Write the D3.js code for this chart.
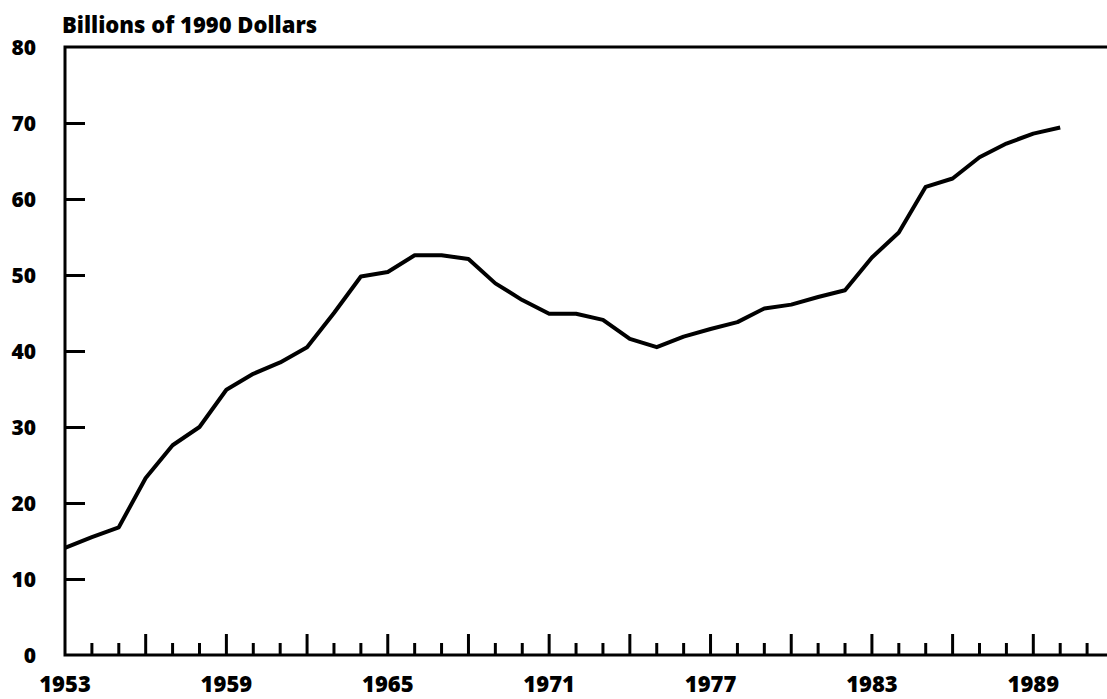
<!DOCTYPE html>
<html>
<head>
<meta charset="utf-8">
<script src="https://cdn.jsdelivr.net/npm/d3@7"></script>
<style>
  body { margin: 0; background: #fff; }
  text { font-family: "Open Sans", sans-serif; font-weight: 800; fill: #000; }
</style>
</head>
<body>
<div id="vis"></div>
<script>
const FRAME_WIDTH = 1107;
const FRAME_HEIGHT = 699;
const MARGINS = {left: 65, right: 0, top: 47, bottom: 44};

// data
const years = [1953, 1954, 1955, 1956, 1957, 1958, 1959, 1960, 1961, 1962,
               1963, 1964, 1965, 1966, 1967, 1968, 1969, 1970, 1971, 1972,
               1973, 1974, 1975, 1976, 1977, 1978, 1979, 1980, 1981, 1982,
               1983, 1984, 1985, 1986, 1987, 1988, 1989, 1990];
const values = [14.1, 15.5, 16.8, 23.3, 27.6, 30.0, 34.9, 37.0, 38.5, 40.5,
                45.0, 49.8, 50.4, 52.6, 52.6, 52.1, 48.9, 46.7, 44.9, 44.9,
                44.1, 41.6, 40.5, 41.9, 42.9, 43.8, 45.6, 46.1, 47.1, 48.0,
                52.3, 55.6, 61.6, 62.7, 65.5, 67.3, 68.6, 69.4];
const yTicks = [0, 10, 20, 30, 40, 50, 60, 70, 80];
const xLabels = [1953, 1959, 1965, 1971, 1977, 1983, 1989];
const xTickYears = d3.range(1954, 1992);
const title = 'Billions of 1990 Dollars';

const VIS_WIDTH = FRAME_WIDTH - MARGINS.left - MARGINS.right;
const VIS_HEIGHT = FRAME_HEIGHT - MARGINS.top - MARGINS.bottom;

const FRAME = d3.select('#vis')
  .append('svg')
    .attr('width', FRAME_WIDTH)
    .attr('height', FRAME_HEIGHT);

const X_SCALE = d3.scaleLinear()
  .domain([1953, 1991.74])
  .range([MARGINS.left, MARGINS.left + VIS_WIDTH]);

const Y_SCALE = d3.scaleLinear()
  .domain([0, 80])
  .range([MARGINS.top + VIS_HEIGHT, MARGINS.top]);

// y axis, ticks pointing into the plot
const yAxis = FRAME.append('g')
  .attr('transform', 'translate(' + MARGINS.left + ',0)')
  .call(d3.axisRight(Y_SCALE).tickValues(yTicks.slice(1, -1)).tickSize(20).tickFormat(''));
yAxis.select('.domain').remove();
yAxis.selectAll('line').attr('stroke', '#000').attr('stroke-width', 3);

FRAME.selectAll('.ylab')
  .data(yTicks)
  .enter()
  .append('text')
    .attr('class', 'ylab')
    .attr('x', 36)
    .attr('y', (d) => Y_SCALE(d))
    .attr('dy', '0.36em')
    .attr('text-anchor', 'end')
    .attr('font-size', '21px')
    .text((d) => d);

// x ticks: short every year, long every third year
FRAME.selectAll('.xtick')
  .data(xTickYears)
  .enter()
  .append('line')
    .attr('x1', (d) => X_SCALE(d))
    .attr('x2', (d) => X_SCALE(d))
    .attr('y1', Y_SCALE(0))
    .attr('y2', (d) => Y_SCALE(0) - ((d - 1953) % 3 === 0 ? 21 : 12))
    .attr('stroke', '#000')
    .attr('stroke-width', 3);

FRAME.selectAll('.xlab')
  .data(xLabels)
  .enter()
  .append('text')
    .attr('class', 'xlab')
    .attr('x', (d) => X_SCALE(d))
    .attr('y', 692)
    .attr('text-anchor', 'middle')
    .attr('font-size', '22px')
    .text((d) => d);

// frame lines: left, bottom, top
FRAME.append('path')
  .attr('d', 'M' + X_SCALE.range()[1] + ',' + Y_SCALE(80) +
             'H' + MARGINS.left + 'V' + Y_SCALE(0) + 'H' + X_SCALE.range()[1])
  .attr('fill', 'none')
  .attr('stroke', '#000')
  .attr('stroke-width', 3);

// the series
FRAME.append('path')
  .datum(years.map((y, i) => [y, values[i]]))
  .attr('d', d3.line().x((d) => X_SCALE(d[0])).y((d) => Y_SCALE(d[1])))
  .attr('fill', 'none')
  .attr('stroke', '#000')
  .attr('stroke-width', 4)
  .attr('stroke-linejoin', 'round');

FRAME.append('text')
  .attr('x', 62)
  .attr('y', 33)
  .attr('font-size', '22px')
  .attr('font-weight', 700)
  .text(title);
</script>
</body>
</html>
